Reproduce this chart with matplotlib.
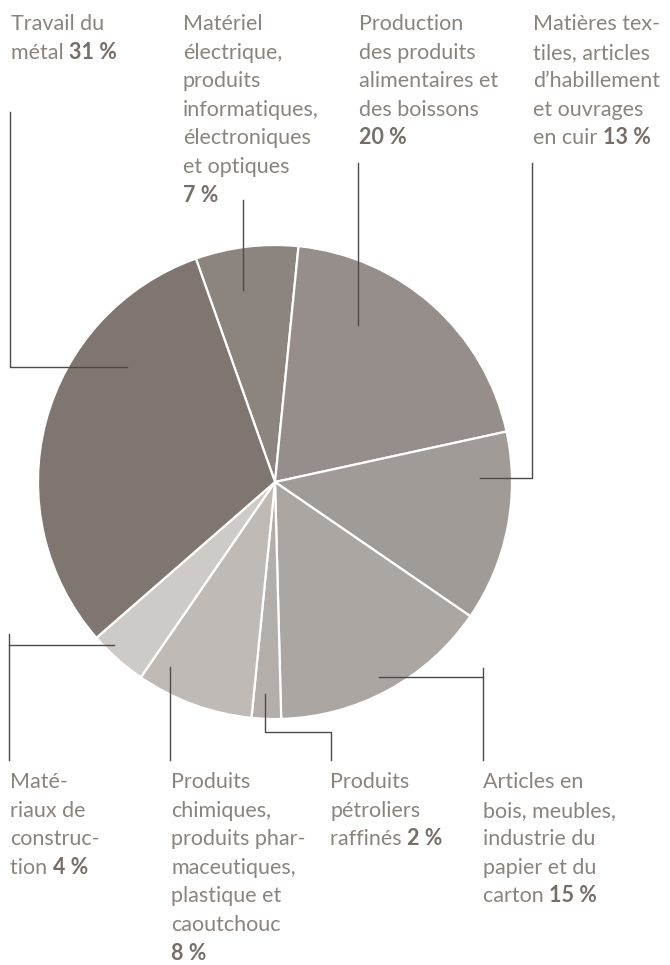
import matplotlib
matplotlib.use("Agg")
import matplotlib.pyplot as plt

# shares in %, clockwise from the top
sectors = ["electrique", "alimentaire", "textile", "bois", "petrole",
           "chimie", "materiaux", "metal"]
shares = [7, 20, 13, 15, 2, 8, 4, 31]
colors = ["#8c847f", "#958e8a", "#a19b98", "#aca6a3", "#b4aeab",
          "#bfbab6", "#cecac7", "#7f7671"]

# label lines: (plain part, bold part)
labels = {
    "metal": [("Travail du", ""), ("métal ", "31 %")],
    "electrique": [("Matériel", ""), ("électrique,", ""), ("produits", ""),
                   ("informatiques,", ""), ("électroniques", ""),
                   ("et optiques", ""), ("", "7 %")],
    "alimentaire": [("Production", ""), ("des produits", ""),
                    ("alimentaires et", ""), ("des boissons", ""), ("", "20 %")],
    "textile": [("Matières tex-", ""), ("tiles, articles", ""),
                ("d’habillement", ""), ("et ouvrages", ""), ("en cuir ", "13 %")],
    "materiaux": [("Maté-", ""), ("riaux de", ""), ("construc-", ""),
                  ("tion ", "4 %")],
    "chimie": [("Produits", ""), ("chimiques,", ""), ("produits phar-", ""),
               ("maceutiques,", ""), ("plastique et", ""), ("caoutchouc", ""),
               ("", "8 %")],
    "petrole": [("Produits", ""), ("pétroliers", ""), ("raffinés ", "2 %")],
    "bois": [("Articles en", ""), ("bois, meubles,", ""), ("industrie du", ""),
             ("papier et du", ""), ("carton ", "15 %")],
}

W, H = 670, 965
fig = plt.figure(figsize=(W / 100, H / 100), dpi=100)
fig.patch.set_facecolor("white")

def fx(x):
    return x / W

def fy(y):
    return 1 - y / H

# pie
cx, cy, r = 275, 482, 237
ax = fig.add_axes([fx(cx - r), fy(cy + r), 2 * r / W, 2 * r / H])
ax.pie(shares, colors=colors, startangle=109.5, counterclock=False,
       radius=1, wedgeprops=dict(edgecolor="white", linewidth=1.6))
ax.set_xlim(-1, 1)
ax.set_ylim(-1, 1)
ax.set_axis_off()

# text
txt_color = "#8a837e"
bold_color = "#766e69"
fs = 15.5
lh = 28.6
pos = {
    "metal": (11, 30), "electrique": (183, 30), "alimentaire": (359, 30),
    "textile": (533, 30), "materiaux": (10, 788), "chimie": (171, 788),
    "petrole": (330, 788), "bois": (483, 788),
}
for key, lines in labels.items():
    x0, y0 = pos[key]
    for i, (plain, bold) in enumerate(lines):
        y = y0 + i * lh
        t = fig.text(fx(x0), fy(y), plain, fontsize=fs, family="Lato",
                     color=txt_color, va="baseline", ha="left")
        if bold:
            if plain:
                fig.canvas.draw()
                bb = t.get_window_extent()
                bx = bb.x1 / W
            else:
                bx = fx(x0)
            fig.text(bx, fy(y), bold, fontsize=fs, family="Lato",
                     weight="bold", color=bold_color, va="baseline", ha="left")

# leader lines (pixel paths)
leaders = [
    [(10, 112), (10, 367), (127, 367)],
    [(243, 200), (243, 290)],
    [(358, 163), (358, 325)],
    [(532, 163), (532, 478), (480, 478)],
    [(9, 760), (9, 634)],
    [(9, 645), (114, 645)],
    [(170, 760), (170, 667)],
    [(265, 694), (265, 732), (331, 732), (331, 760)],
    [(379, 677), (483, 677)],
    [(483, 668), (483, 760)],
]
for path in leaders:
    xs = [fx(p[0]) for p in path]
    ys = [fy(p[1]) for p in path]
    fig.add_artist(plt.Line2D(xs, ys, color="#4d4a48", linewidth=1.0,
                              transform=fig.transFigure))

fig.savefig("out.png", dpi=100)
